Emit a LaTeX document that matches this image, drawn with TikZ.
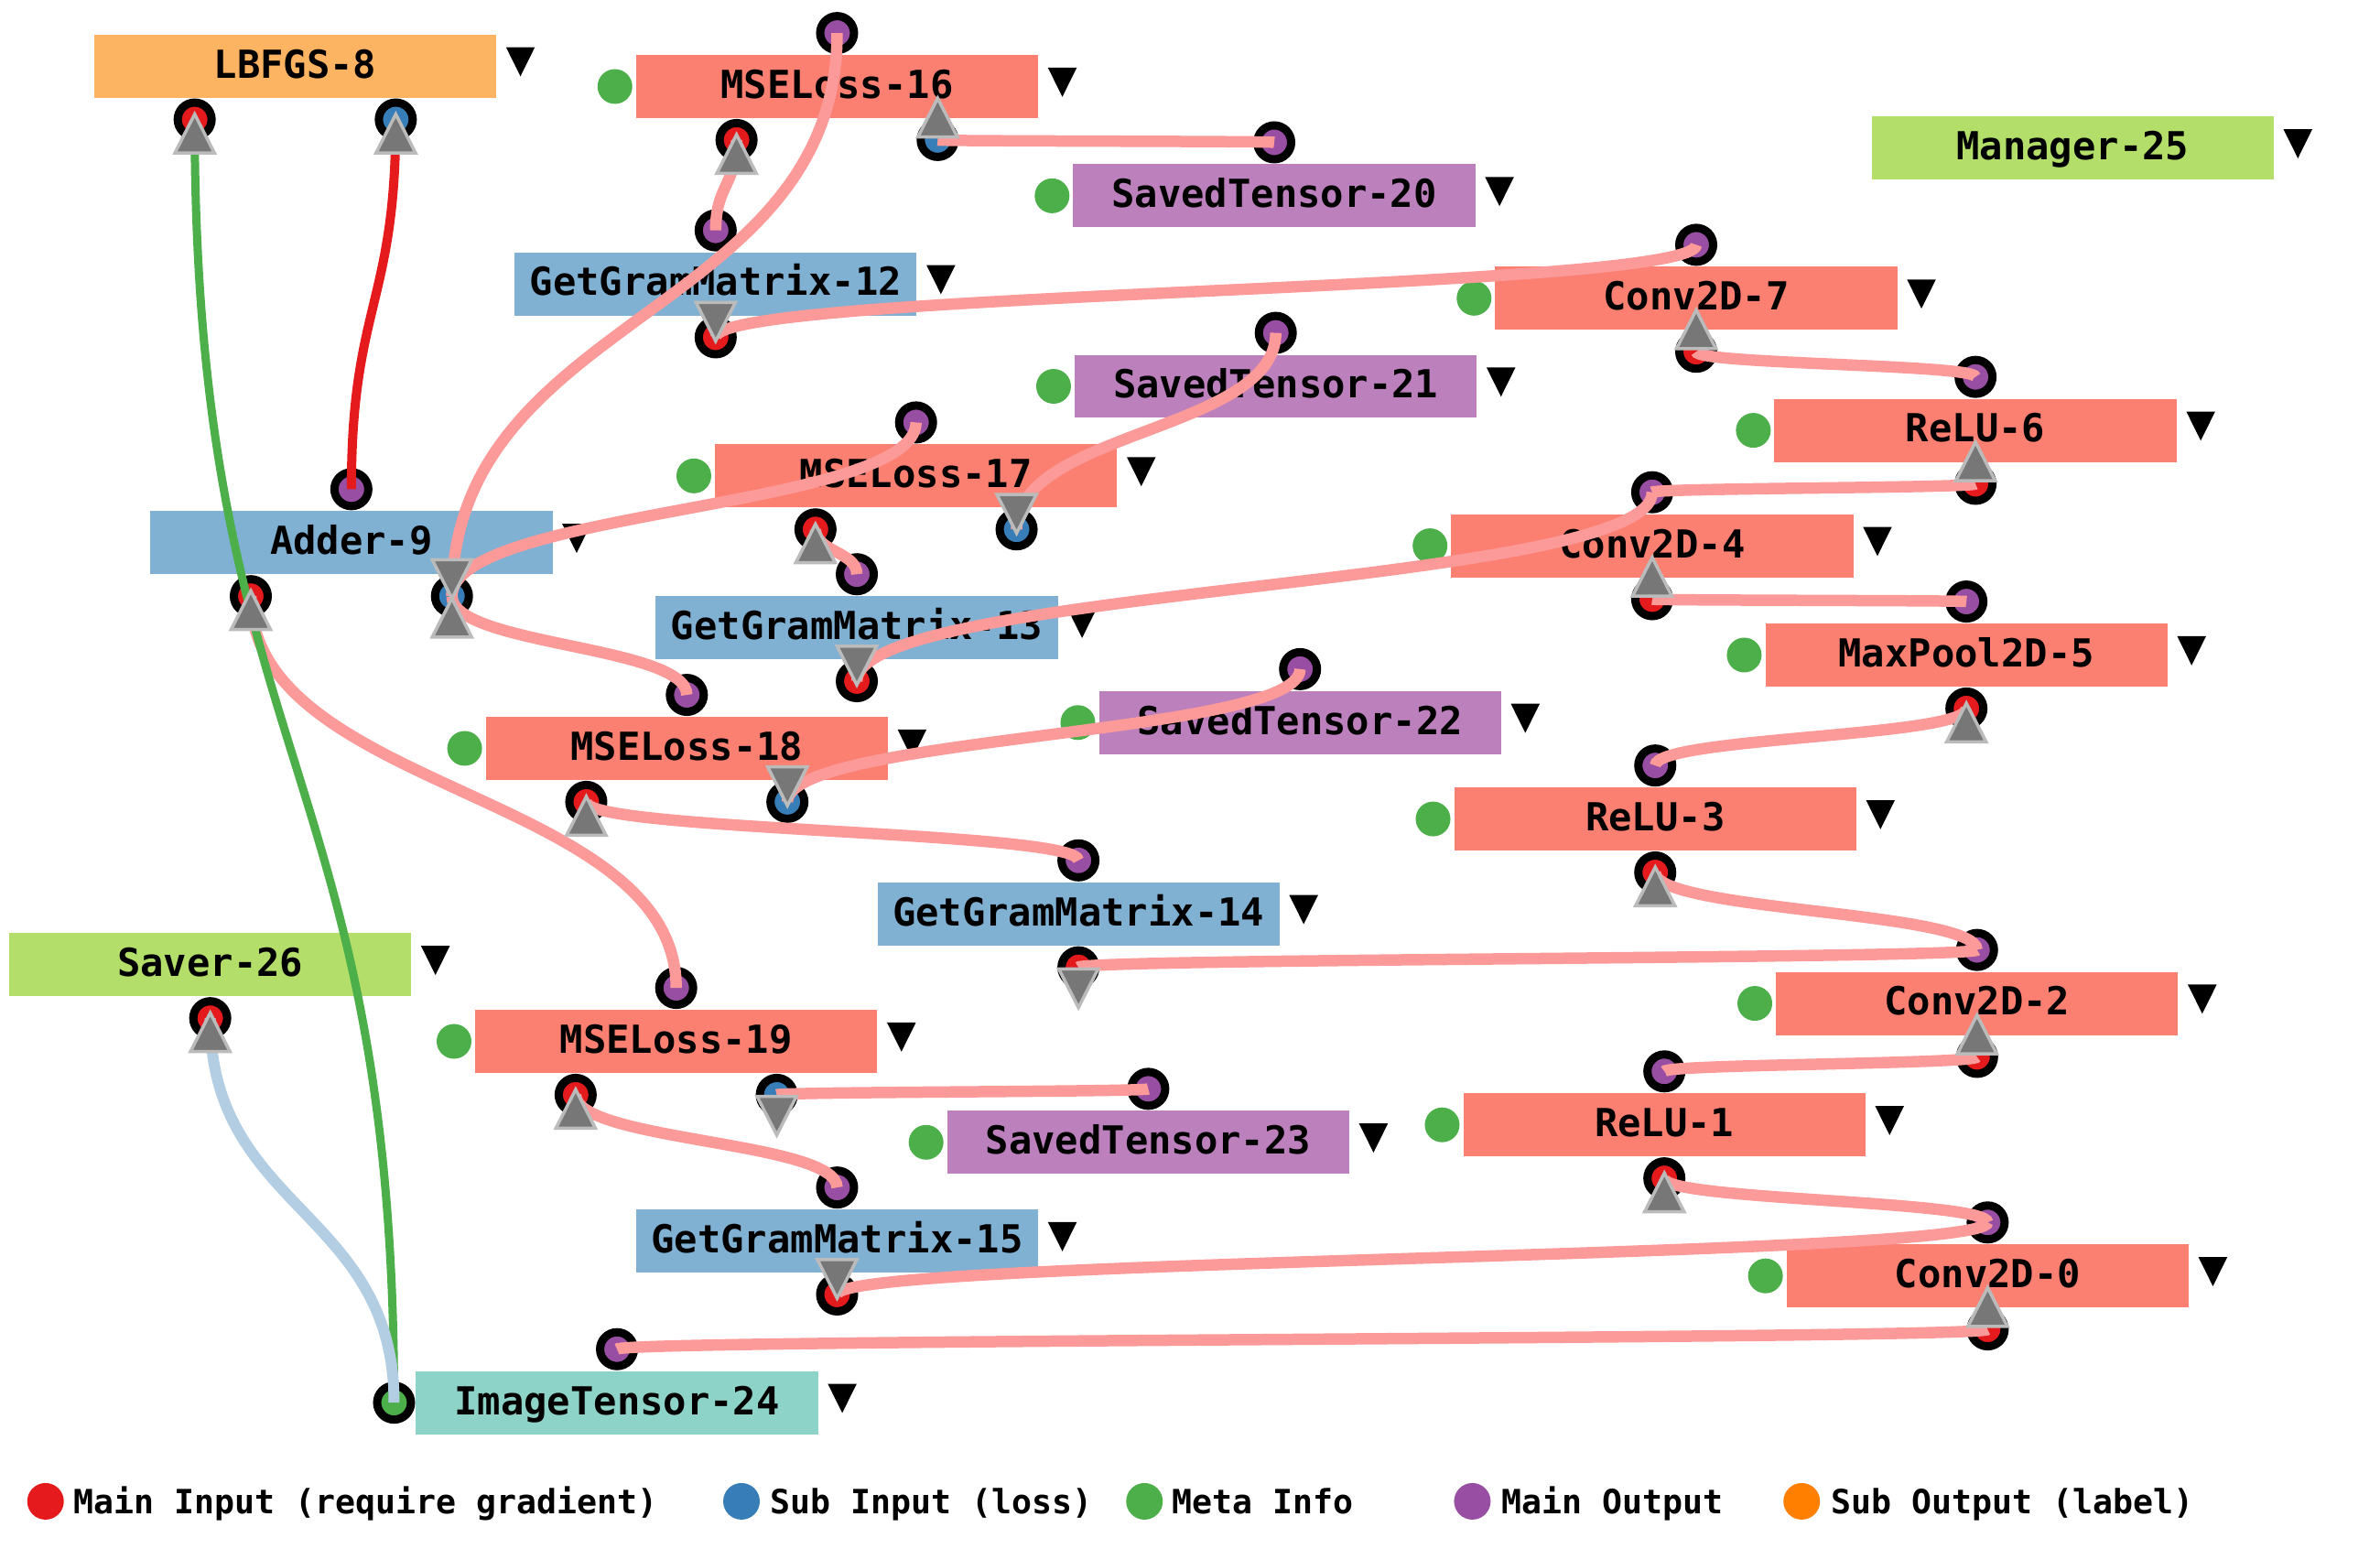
\documentclass[tikz,border=0pt]{standalone}
\usepackage{fontspec}
\setmainfont{DejaVu Sans Mono}
\usetikzlibrary{calc}
\definecolor{cSalmon}{HTML}{FB8072}
\definecolor{cBlueBox}{HTML}{80B1D3}
\definecolor{cOrangeBox}{HTML}{FDB462}
\definecolor{cGreenBox}{HTML}{B3DE69}
\definecolor{cPurpleBox}{HTML}{BC80BD}
\definecolor{cTealBox}{HTML}{8DD3C7}
\definecolor{pRed}{HTML}{E41A1C}
\definecolor{pBlue}{HTML}{377EB8}
\definecolor{pGreen}{HTML}{4DAF4A}
\definecolor{pPurple}{HTML}{984EA3}
\definecolor{pOrange}{HTML}{FF7F00}
\definecolor{ePink}{HTML}{FB9A99}
\definecolor{eLightBlue}{HTML}{B3CDE3}
\definecolor{triFill}{HTML}{777777}
\definecolor{triStroke}{HTML}{BBBBBB}
\tikzset{
  opbox/.style={rectangle, inner sep=0pt, minimum width=4.394cm, minimum height=0.69cm,
    text height=8.75pt, text depth=1.4pt, font=\bfseries\fontsize{12}{14}\selectfont},
  legtext/.style={inner sep=0pt, anchor=west, text height=7.6pt, text depth=0pt,
    font=\bfseries\fontsize{10.4}{12}\selectfont},
  portring/.style={draw=black, line width=0.09cm},
  trimark/.style={fill=triFill, draw=triStroke, line width=0.035cm, line join=miter},
  pinkline/.style={draw=ePink, line width=0.125cm},
  redline/.style={draw=pRed, line width=0.1cm},
  greenline/.style={draw=pGreen, line width=0.09cm},
  blueline/.style={draw=eLightBlue, line width=0.12cm},
}
\newcommand{\menumark}[1]{\fill ($(#1.east)+(6,-12.4)$) -- ++(19,0) -- ++(-9.5,19.2) -- cycle;}
\newcommand{\metadot}[1]{\fill[pGreen] ($(#1.west)+(-13.5,0)$) circle[radius=0.19cm];}
\newcommand{\outport}[1]{\coordinate (#1o) at ($(#1.north)+(0,-14)$);}
\newcommand{\inC}[1]{\coordinate (#1i) at ($(#1.south)+(0,14)$);}
\newcommand{\inLR}[1]{\coordinate (#1l) at ($(#1.south)+(-66.25,14)$);\coordinate (#1r) at ($(#1.south)+(66.25,14)$);}
\newcommand{\pdot}[2]{\draw[portring, fill=#2] (#1) circle[radius=0.185cm];}
\newcommand{\conn}[3][pinkline]{\path ($(#2)!0.5!(#3)$) coordinate (mid);\draw[#1] (#2) .. controls (#2 |- mid) and (#3 |- mid) .. (#3);}
\newcommand{\triup}[2]{\filldraw[trimark] ($(#1)+(0,#2)$) -- ++(13,25.5) -- ++(-26,0) -- cycle;}
\newcommand{\tridn}[2]{\filldraw[trimark] ($(#1)+(-13,#2)$) -- ++(26,0) -- ++(-13,25.5) -- cycle;}
\begin{document}
\begin{tikzpicture}[x=0.016582cm,y=-0.016582cm]
\useasboundingbox (0,0) rectangle (1568,1020);
% boxes
\node[opbox, fill=cOrangeBox] (lbfgs) at (194.5,43.5) {LBFGS-8};
\node[opbox, fill=cSalmon] (m16) at (551.5,57) {MSELoss-16};
\node[opbox, fill=cGreenBox] (mgr) at (1365.5,97.5) {Manager-25};
\node[opbox, fill=cPurpleBox] (st20) at (839.5,129) {SavedTensor-20};
\node[opbox, fill=cBlueBox] (gg12) at (471.5,187) {GetGramMatrix-12};
\node[opbox, fill=cSalmon] (cv7) at (1117.5,196.5) {Conv2D-7};
\node[opbox, fill=cPurpleBox] (st21) at (840.5,254.5) {SavedTensor-21};
\node[opbox, fill=cSalmon] (r6) at (1301.5,283.5) {ReLU-6};
\node[opbox, fill=cSalmon] (m17) at (603.5,313.5) {MSELoss-17};
\node[opbox, fill=cBlueBox] (add9) at (231.5,357.5) {Adder-9};
\node[opbox, fill=cSalmon] (cv4) at (1088.5,359.5) {Conv2D-4};
\node[opbox, fill=cBlueBox] (gg13) at (564.5,413.5) {GetGramMatrix-13};
\node[opbox, fill=cSalmon] (mp5) at (1295.5,431.5) {MaxPool2D-5};
\node[opbox, fill=cPurpleBox] (st22) at (856.5,476) {SavedTensor-22};
\node[opbox, fill=cSalmon] (m18) at (452.5,493) {MSELoss-18};
\node[opbox, fill=cSalmon] (r3) at (1090.5,539.5) {ReLU-3};
\node[opbox, fill=cBlueBox] (gg14) at (710.5,602) {GetGramMatrix-14};
\node[opbox, fill=cGreenBox] (saver) at (138.5,635.5) {Saver-26};
\node[opbox, fill=cSalmon] (cv2) at (1302.5,661) {Conv2D-2};
\node[opbox, fill=cSalmon] (m19) at (445.5,686) {MSELoss-19};
\node[opbox, fill=cSalmon] (r1) at (1096.5,741) {ReLU-1};
\node[opbox, fill=cPurpleBox] (st23) at (756.5,752.5) {SavedTensor-23};
\node[opbox, fill=cBlueBox] (gg15) at (551.5,817.5) {GetGramMatrix-15};
\node[opbox, fill=cSalmon] (cv0) at (1309.5,840.5) {Conv2D-0};
\node[opbox, fill=cTealBox] (img) at (406.5,924) {ImageTensor-24};
% menu marks
\foreach \n in {lbfgs,m16,mgr,st20,gg12,cv7,st21,r6,m17,add9,cv4,gg13,mp5,st22,m18,r3,gg14,saver,cv2,m19,r1,st23,gg15,cv0,img}{\menumark{\n}}
% meta dots
\foreach \n in {m16,st20,cv7,st21,r6,m17,cv4,mp5,st22,m18,r3,cv2,m19,r1,st23,cv0}{\metadot{\n}}
% port coordinates
\inLR{lbfgs}
\outport{m16}\inLR{m16}
\outport{st20}
\outport{gg12}\inC{gg12}
\outport{cv7}\inC{cv7}
\outport{st21}
\outport{r6}\inC{r6}
\outport{m17}\inLR{m17}
\outport{add9}\inLR{add9}
\outport{cv4}\inC{cv4}
\outport{gg13}\inC{gg13}
\outport{mp5}\inC{mp5}
\outport{st22}
\outport{m18}\inLR{m18}
\outport{r3}\inC{r3}
\outport{gg14}\inC{gg14}
\inC{saver}
\outport{cv2}\inC{cv2}
\outport{m19}\inLR{m19}
\outport{r1}\inC{r1}
\outport{st23}
\outport{gg15}\inC{gg15}
\outport{cv0}\inC{cv0}
\outport{img}
\coordinate (imgm) at ($(img.west)+(-14,0)$);
% ports
\pdot{lbfgsl}{pRed}\pdot{lbfgsr}{pBlue}
\pdot{m16o}{pPurple}\pdot{m16l}{pRed}\pdot{m16r}{pBlue}
\pdot{st20o}{pPurple}
\pdot{gg12o}{pPurple}\pdot{gg12i}{pRed}
\pdot{cv7o}{pPurple}\pdot{cv7i}{pRed}
\pdot{st21o}{pPurple}
\pdot{r6o}{pPurple}\pdot{r6i}{pRed}
\pdot{m17o}{pPurple}\pdot{m17l}{pRed}\pdot{m17r}{pBlue}
\pdot{add9o}{pPurple}\pdot{add9l}{pRed}\pdot{add9r}{pBlue}
\pdot{cv4o}{pPurple}\pdot{cv4i}{pRed}
\pdot{gg13o}{pPurple}\pdot{gg13i}{pRed}
\pdot{mp5o}{pPurple}\pdot{mp5i}{pRed}
\pdot{st22o}{pPurple}
\pdot{m18o}{pPurple}\pdot{m18l}{pRed}\pdot{m18r}{pBlue}
\pdot{r3o}{pPurple}\pdot{r3i}{pRed}
\pdot{gg14o}{pPurple}\pdot{gg14i}{pRed}
\pdot{saveri}{pRed}
\pdot{cv2o}{pPurple}\pdot{cv2i}{pRed}
\pdot{m19o}{pPurple}\pdot{m19l}{pRed}\pdot{m19r}{pBlue}
\pdot{r1o}{pPurple}\pdot{r1i}{pRed}
\pdot{st23o}{pPurple}
\pdot{gg15o}{pPurple}\pdot{gg15i}{pRed}
\pdot{cv0o}{pPurple}\pdot{cv0i}{pRed}
\pdot{imgo}{pPurple}\pdot{imgm}{pGreen}
% connectors
\conn{m16o}{add9r}
\conn{m17o}{add9r}
\conn{m18o}{add9r}
\conn{m19o}{add9l}
\conn{gg12o}{m16l}
\conn{st20o}{m16r}
\conn{gg13o}{m17l}
\conn{st21o}{m17r}
\conn{gg14o}{m18l}
\conn{st22o}{m18r}
\conn{gg15o}{m19l}
\conn{st23o}{m19r}
\conn{cv7o}{gg12i}
\conn{r6o}{cv7i}
\conn{cv4o}{r6i}
\conn{cv4o}{gg13i}
\conn{mp5o}{cv4i}
\conn{r3o}{mp5i}
\conn{cv2o}{r3i}
\conn{cv2o}{gg14i}
\conn{r1o}{cv2i}
\conn{cv0o}{r1i}
\conn{cv0o}{gg15i}
\conn{imgo}{cv0i}
\conn[redline]{add9o}{lbfgsr}
\conn[greenline]{imgm}{lbfgsl}
\conn[blueline]{imgm}{saveri}
% direction markers
\triup{lbfgsl}{-3.5}\triup{lbfgsr}{-3.5}
\triup{m16l}{-3.5}\triup{m16r}{-27.5}
\tridn{gg12i}{-23}
\triup{cv7i}{-27.5}
\triup{r6i}{-27.5}
\triup{m17l}{-3.5}\tridn{m17r}{-23}
\triup{add9l}{-3.5}\tridn{add9r}{-24}\triup{add9r}{1.5}
\triup{cv4i}{-27.5}
\tridn{gg13i}{-23}
\triup{mp5i}{-3.5}
\triup{m18l}{-3.5}\tridn{m18r}{-23}
\triup{r3i}{-3.5}
\tridn{gg14i}{1}
\triup{saveri}{-3.5}
\triup{cv2i}{-27.5}
\triup{m19l}{-3.5}\tridn{m19r}{1}
\triup{r1i}{-3.5}
\tridn{gg15i}{-23}
\triup{cv0i}{-27.5}
% legend
\fill[pRed] (30,989) circle[radius=0.2cm];
\node[legtext] (lg1) at (48,989) {Main Input (require gradient)};
\fill[pBlue] (488.5,989) circle[radius=0.2cm];
\node[legtext] (lg2) at (507,989) {Sub Input (loss)};
\fill[pGreen] (754,989) circle[radius=0.2cm];
\node[legtext] (lg3) at (772,989) {Meta Info};
\fill[pPurple] (970,989) circle[radius=0.2cm];
\node[legtext] (lg4) at (989,989) {Main Output};
\fill[pOrange] (1187,989) circle[radius=0.2cm];
\node[legtext] (lg5) at (1206,989) {Sub Output (label)};
\end{tikzpicture}
\end{document}
